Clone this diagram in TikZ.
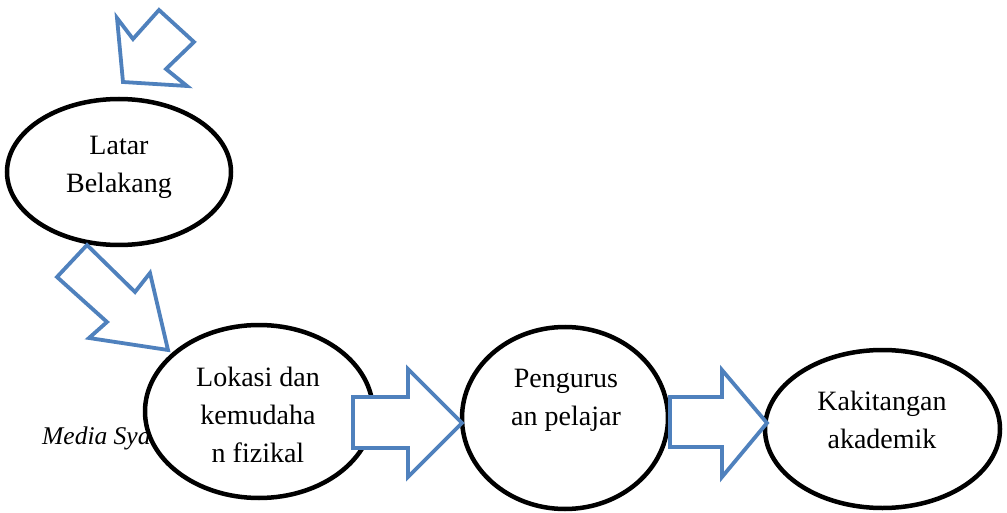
\documentclass[tikz,border=0pt]{standalone}
\usepackage{fontspec}
\setmainfont{Liberation Serif}
\usetikzlibrary{shapes.geometric}
\definecolor{arrowblue}{HTML}{4F81BD}
\tikzset{
  oval/.style={ellipse, draw=black, line width=4.5pt, fill=white, inner sep=0pt},
  blockarrow/.style={draw=arrowblue, line width=3.8pt, fill=white, line join=miter},
  txt/.style={align=center, inner sep=0pt, anchor=base, font=\fontsize{28}{38}\selectfont}
}
\begin{document}
\begin{tikzpicture}[x=1pt,y=-1pt]
\useasboundingbox (0,0) rectangle (1007,513);
% partly hidden caption text
\node[anchor=base west, inner sep=0pt, font=\fontsize{25.5}{28}\selectfont\itshape] (cap) at (42,444) {Media Sya};
% ellipses
\node[oval, minimum width=224pt, minimum height=146pt] (e1) at (119,172) {};
\node[oval, minimum width=228pt, minimum height=173pt] (e2) at (259,411.5) {};
\node[oval, minimum width=206pt, minimum height=182pt] (e3) at (565,418) {};
\node[oval, minimum width=235pt, minimum height=158pt] (e4) at (882.5,429) {};
% texts (anchor base = baseline of the last line)
\node[txt] (t1) at (119,193) {Latar\\Belakang};
\node[txt] (t2) at (258,462) {Lokasi dan\\kemudaha\\n fizikal};
\node[txt] (t3) at (566,425) {Pengurus\\an pelajar};
\node[txt] (t4) at (882,448) {Kakitangan\\akademik};
% block arrows
\draw[blockarrow] (123,82) -- (117,18) -- (133,39) -- (159,10) -- (194,42) -- (166,69) -- (187,86) -- cycle;
\draw[blockarrow] (168,350) -- (89,338) -- (107,322) -- (57,277) -- (87,245) -- (135,292) -- (150,273) -- cycle;
\draw[blockarrow] (462,423) -- (408,477) -- (408,448) -- (353,448) -- (353,397) -- (408,397) -- (408,369) -- cycle;
\draw[blockarrow] (767,423) -- (722,477) -- (722,447) -- (670,447) -- (670,397) -- (722,397) -- (722,370) -- cycle;
\end{tikzpicture}
\end{document}
